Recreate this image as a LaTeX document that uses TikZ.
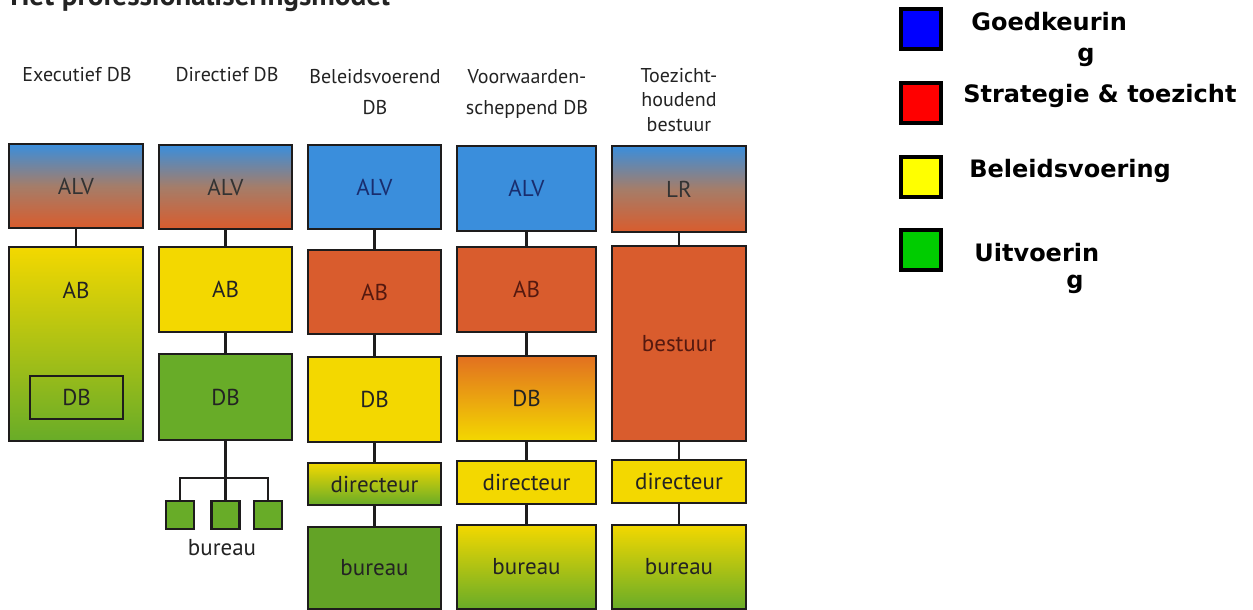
\documentclass[tikz,border=0pt]{standalone}
\usepackage{fontspec}
\setmainfont{PT Sans}
\newfontfamily\legendfont{DejaVu Sans}

\definecolor{alvblue}{RGB}{58,142,220}
\definecolor{abred}{RGB}{217,92,45}
\definecolor{dbyellow}{RGB}{243,216,0}
\definecolor{burgreen}{RGB}{104,172,40}
\definecolor{mixbrown}{RGB}{165,125,105}
\definecolor{dboranje}{RGB}{226,112,32}
\definecolor{lijngrijs}{RGB}{30,28,28}
\definecolor{tekstgrijs}{RGB}{35,35,35}
\definecolor{navytekst}{RGB}{25,45,110}
\definecolor{roodtekst}{RGB}{85,25,15}
\definecolor{legblue}{RGB}{0,0,255}
\definecolor{legred}{RGB}{255,0,0}
\definecolor{legyellow}{RGB}{255,255,0}
\definecolor{leggreen}{RGB}{0,204,0}

\tikzset{
    blok/.style={draw=lijngrijs, line width=1.2pt, inner sep=0pt, text=tekstgrijs, font=\fontsize{11.5}{13}\selectfont},
    maat/.style 2 args={minimum width=#1*0.5pt, minimum height=#2*0.5pt},
    overgang/.style={top color=alvblue, bottom color=abred, middle color=mixbrown},
    geelgroen/.style={top color=dbyellow, bottom color=burgreen},
    lijn/.style={draw=lijngrijs, line width=1.3pt},
    kop/.style={align=center, text=tekstgrijs, font=\fontsize{10}{15.5}\selectfont},
    legvak/.style={draw=black, line width=2pt, inner sep=0pt, minimum width=20.25pt, minimum height=20pt},
    legtekst/.style={anchor=base west, align=left, inner sep=0pt, font=\legendfont\bfseries\fontsize{12}{15.5}\selectfont}
}

\begin{document}
\begin{tikzpicture}[x=0.5pt, y=-0.5pt]
    \fill[white] (0,0) rectangle (1253,610);
    \useasboundingbox (0,0) rectangle (1253,610);

    \node[anchor=base west, inner sep=0pt, text=tekstgrijs, font=\bfseries\fontsize{14.6}{17}\selectfont] (titel) at (10,6) {Het professionaliseringsmodel};

    \node[kop] (kop1) at (77,75) {Executief DB};
    \node[kop] (kop2) at (227,75) {Directief DB};
    \node[kop, anchor=north] (kop3) at (375,62) {Beleidsvoerend\\DB};
    \node[kop, anchor=north] (kop4) at (527,62) {Voorwaarden-\\scheppend DB};
    \node[kop, anchor=north, font=\fontsize{10}{12.3}\selectfont] (kop5) at (679,61) {Toezicht-\\houdend\\bestuur};

    \node[blok, maat={134}{84}, overgang, text=black!80] (alv1) at (76,186) {ALV};
    \node[blok, maat={134}{194}, geelgroen] (ab1) at (76,344) {};
    \node[text=tekstgrijs, font=\fontsize{11.5}{13}\selectfont] (ab1tekst) at (76,290) {AB};
    \node[blok, maat={93}{43}] (db1) at (76.5,397.5) {DB};
    \draw[lijn] (alv1) -- (ab1);

    \node[blok, maat={133}{84}, overgang, text=black!80] (alv2) at (225.5,187) {ALV};
    \node[blok, maat={133}{85}, fill=dbyellow] (ab2) at (225.5,289.5) {AB};
    \node[blok, maat={133}{86}, fill=burgreen] (db2) at (225.5,397) {DB};
    \coordinate (tak2) at (225.5,478);
    \node[blok, maat={28}{28}, fill=burgreen] (bur2a) at (180,515) {};
    \node[blok, maat={28}{28}, fill=burgreen] (bur2b) at (225.5,515) {};
    \node[blok, maat={28}{28}, fill=burgreen] (bur2c) at (268,515) {};
    \node[text=tekstgrijs, font=\fontsize{11.5}{13}\selectfont] (bur2tekst) at (222,548) {bureau};
    \draw[lijn] (alv2) -- (ab2);
    \draw[lijn] (ab2) -- (db2);
    \draw[lijn] (db2) -- (tak2);
    \draw[lijn] (bur2a.north) |- (tak2) -| (bur2c.north);
    \draw[lijn] (tak2) -- (bur2b.north);

    \node[blok, maat={133}{84}, fill=alvblue, text=navytekst] (alv3) at (374.5,187) {ALV};
    \node[blok, maat={133}{84}, fill=abred, text=roodtekst] (ab3) at (374.5,292) {AB};
    \node[blok, maat={133}{85}, fill=dbyellow] (db3) at (374.5,399.5) {DB};
    \node[blok, maat={133}{42}, geelgroen] (dir3) at (374.5,484) {directeur};
    \node[blok, maat={133}{82}, fill=burgreen!95!black] (bur3) at (374.5,568) {bureau};
    \draw[lijn] (alv3) -- (ab3);
    \draw[lijn] (ab3) -- (db3);
    \draw[lijn] (db3) -- (dir3);
    \draw[lijn] (dir3) -- (bur3);

    \node[blok, maat={139}{85}, fill=alvblue, text=navytekst] (alv4) at (526.5,188.5) {ALV};
    \node[blok, maat={139}{85}, fill=abred, text=roodtekst] (ab4) at (526.5,289.5) {AB};
    \node[blok, maat={139}{85}, top color=dboranje, bottom color=dbyellow] (db4) at (526.5,398.5) {DB};
    \node[blok, maat={139}{43}, fill=dbyellow] (dir4) at (526.5,482.5) {directeur};
    \node[blok, maat={139}{84}, geelgroen] (bur4) at (526.5,567) {bureau};
    \draw[lijn] (alv4) -- (ab4);
    \draw[lijn] (ab4) -- (db4);
    \draw[lijn] (db4) -- (dir4);
    \draw[lijn] (dir4) -- (bur4);

    \node[blok, maat={134}{86}, overgang, text=black!80] (lr5) at (679,189) {LR};
    \node[blok, maat={134}{195}, fill=abred, text=roodtekst] (bestuur5) at (679,343.5) {bestuur};
    \node[blok, maat={134}{43}, fill=dbyellow] (dir5) at (679,481.5) {directeur};
    \node[blok, maat={134}{84}, geelgroen] (bur5) at (679,567) {bureau};
    \draw[lijn] (lr5) -- (bestuur5);
    \draw[lijn] (bestuur5) -- (dir5);
    \draw[lijn] (dir5) -- (bur5);

    \node[legvak, fill=legblue] (leg1) at (920.75,29.5) {};
    \node[legvak, fill=legred] (leg2) at (920.75,103.5) {};
    \node[legvak, fill=legyellow] (leg3) at (920.75,177) {};
    \node[legvak, fill=leggreen] (leg4) at (920.75,250.25) {};
    \node[legtekst] (leg1tekst) at (971,62) {Goedkeurin\\\hspace*{53pt}g};
    \node[legtekst] (leg2tekst) at (963,103) {Strategie \& toezicht};
    \node[legtekst] (leg3tekst) at (969,177) {Beleidsvoering};
    \node[legtekst, font=\legendfont\bfseries\fontsize{12}{13.5}\selectfont] (leg4tekst) at (974,288) {Uitvoerin\\\hspace*{46pt}g};
\end{tikzpicture}
\end{document}
